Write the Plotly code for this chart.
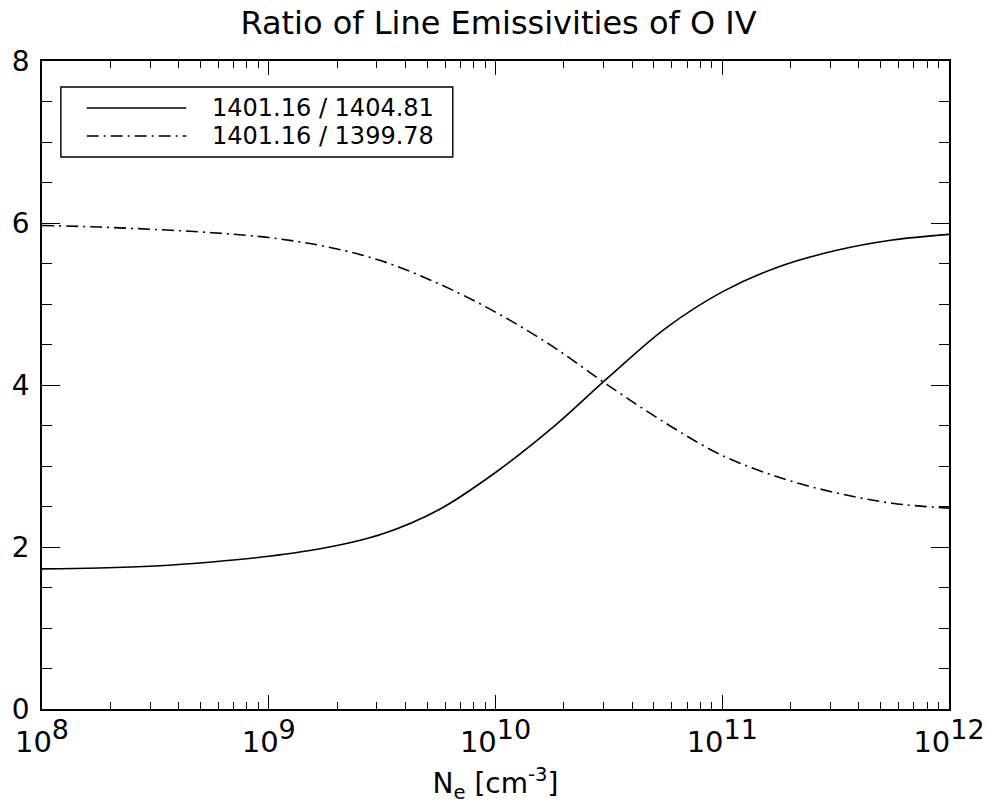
import plotly.graph_objects as go

# electron density grid (log10 of N_e in cm^-3)
log_ne = [8.00, 8.25, 8.50, 8.75, 9.00, 9.25, 9.50, 9.75, 10.00, 10.25,
          10.50, 10.75, 11.00, 11.25, 11.50, 11.75, 12.00]
ratio_1404 = [1.73, 1.74, 1.765, 1.815, 1.885, 1.99, 2.16, 2.46, 2.92, 3.47,
              4.10, 4.70, 5.15, 5.46, 5.66, 5.79, 5.86]
ratio_1399 = [5.97, 5.95, 5.92, 5.88, 5.82, 5.71, 5.53, 5.25, 4.90, 4.48,
              3.99, 3.53, 3.13, 2.86, 2.67, 2.54, 2.48]
series_names = ["1401.16 / 1404.81", "1401.16 / 1399.78"]
x_tick_exponents = [8, 9, 10, 11, 12]
y_tick_values = [0, 2, 4, 6, 8]

ne = [10 ** v for v in log_ne]
FONT = "DejaVu Sans"
DASHDOT = "12px,5px,2px,5px"

fig = go.Figure()
fig.add_trace(go.Scatter(x=ne, y=ratio_1404, mode="lines", name=series_names[0],
                         line=dict(color="black", width=1.6, shape="spline", smoothing=1.0)))
fig.add_trace(go.Scatter(x=ne, y=ratio_1399, mode="lines", name=series_names[1],
                         line=dict(color="black", width=1.6, dash=DASHDOT,
                                   shape="spline", smoothing=1.0)))

minor_x = [m * 10 ** e for e in x_tick_exponents[:-1] for m in range(2, 10)]

fig.update_xaxes(
    type="log", range=[8, 12],
    tickvals=[10 ** e for e in x_tick_exponents],
    ticktext=[f"10<sup><span style='font-size:27px'>{e}</span></sup>" for e in x_tick_exponents],
    ticks="inside", ticklen=14, tickwidth=1.4, tickcolor="black",
    minor=dict(tickvals=minor_x, ticks="inside", ticklen=7, tickwidth=1.2, tickcolor="black"),
    showline=True, linecolor="black", linewidth=1.6, mirror="ticks",
    showgrid=False, zeroline=False, ticklabelstandoff=6,
    tickfont=dict(family=FONT, size=29, color="black"),
    title=dict(text="N<sub>e</sub> [cm<sup>-3</sup>]",
               font=dict(family=FONT, size=28, color="black"), standoff=16),
)
fig.update_yaxes(
    range=[0, 8],
    tickvals=y_tick_values,
    ticks="inside", ticklen=18, tickwidth=1.4, tickcolor="black",
    minor=dict(dtick=0.5, ticks="inside", ticklen=10, tickwidth=1.2, tickcolor="black"),
    showline=True, linecolor="black", linewidth=1.6, mirror="ticks",
    showgrid=False, zeroline=False, ticklabelstandoff=5,
    tickfont=dict(family=FONT, size=28, color="black"),
)

# legend box drawn in paper coordinates
fig.add_shape(type="rect", xref="paper", yref="paper", x0=0.0208, x1=0.4529,
              y0=0.8519, y1=0.9599, line=dict(color="black", width=1.4),
              fillcolor="white", layer="above")
legend_y = [0.9275, 0.8843]
dashes = ["solid", DASHDOT]
for name, ly, dsh in zip(series_names, legend_y, dashes):
    fig.add_shape(type="line", xref="paper", yref="paper", x0=0.0493, x1=0.1590,
                  y0=ly, y1=ly, line=dict(color="black", width=1.6, dash=dsh), layer="above")
    fig.add_annotation(xref="paper", yref="paper", x=0.1853, y=ly, text=name,
                       showarrow=False, xanchor="left", yanchor="middle",
                       font=dict(family=FONT, size=24, color="black"))

fig.update_layout(
    width=997, height=806,
    margin=dict(l=38, r=47, t=61, b=97),
    paper_bgcolor="white", plot_bgcolor="white",
    showlegend=False,
    title=dict(text="Ratio of Line Emissivities of O IV", x=0.5, xanchor="center",
               y=0.972, yanchor="middle",
               font=dict(family=FONT, size=32, color="black")),
)

fig.write_html("out.html")
